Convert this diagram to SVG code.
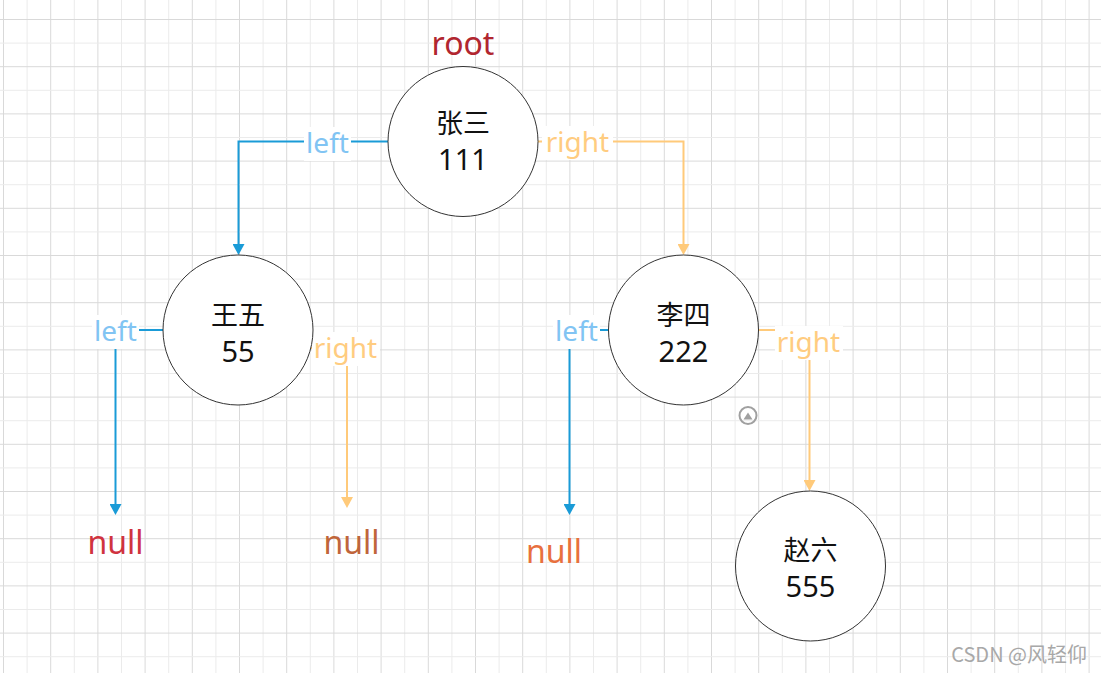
<svg xmlns="http://www.w3.org/2000/svg" width="1101" height="673" viewBox="0 0 1101 673">
<style>
.node circle{fill:#fff;stroke:#333;stroke-width:1}
.nt{font-family:"Noto Sans CJK SC","Noto Sans",sans-serif;fill:#111;text-anchor:middle}
.cn{font-size:27px}
.num{font-size:29px;font-family:"Noto Sans","Noto Sans CJK SC",sans-serif}
.lbl{font-family:"Noto Sans","Open Sans",sans-serif;font-size:28px;text-anchor:middle}
.lb{fill:#81c4f3}
.lr{fill:#ffcc80}
.big{font-family:"Noto Sans","Open Sans",sans-serif;font-size:32px;text-anchor:middle}
.bg{fill:#fff}
.eb{fill:none;stroke:#1a9bd7;stroke-width:2;marker-end:url(#ab)}
.eo{fill:none;stroke:#ffca7a;stroke-width:2;marker-end:url(#ao)}
</style>
<defs>
<pattern id="grid" x="3" y="19" width="47.2" height="47.2" patternUnits="userSpaceOnUse">
<rect x="0" y="0" width="1" height="47.2" fill="#d9d9d9"/>
<rect x="23.6" y="0" width="1" height="47.2" fill="#ebebeb"/>
<rect x="0" y="0" width="47.2" height="1" fill="#d9d9d9"/>
<rect x="0" y="23.6" width="47.2" height="1" fill="#ebebeb"/>
</pattern>
<marker id="ab" viewBox="0 0 11 12" refX="6" refY="6" markerWidth="11" markerHeight="12" markerUnits="userSpaceOnUse" orient="auto"><path d="M0,0 L11,6 L0,12 z" fill="#1a9bd7"/></marker>
<marker id="ao" viewBox="0 0 11 12" refX="6" refY="6" markerWidth="11" markerHeight="12" markerUnits="userSpaceOnUse" orient="auto"><path d="M0,0 L11,6 L0,12 z" fill="#ffca7a"/></marker>
</defs>
<rect width="1101" height="673" fill="#fff"/>
<rect width="1101" height="673" fill="url(#grid)"/>

<g id="connectors">
<path class="eb" d="M388,141.5 H238.5 V250"/>
<path class="eb" d="M163,330 H115.5 V510"/>
<path class="eb" d="M608,330 H569.5 V510"/>
<path class="eo" d="M538,141.5 H683.5 V250"/>
<path class="eo" d="M311,348 H347 V503"/>
<path class="eo" d="M759,330 H809.5 V486"/>
<rect class="bg" x="304" y="127" width="47" height="34"/>
<text class="lbl lb" x="327.5" y="153">left</text>
<rect class="bg" x="542" y="126" width="71" height="34"/>
<text class="lbl lr" x="577.5" y="152">right</text>
<rect class="bg" x="92" y="315" width="47" height="34"/>
<text class="lbl lb" x="115.5" y="341">left</text>
<rect class="bg" x="312" y="332" width="68" height="34"/>
<text class="lbl lr" x="345.5" y="358">right</text>
<rect class="bg" x="553" y="315" width="47" height="34"/>
<text class="lbl lb" x="576.5" y="341">left</text>
<rect class="bg" x="775" y="326" width="68" height="34"/>
<text class="lbl lr" x="808.5" y="352">right</text>
</g>

<text class="big" x="463" y="55" fill="#b1262f">root</text>

<g id="node-zhangsan" class="node">
<circle cx="463" cy="141.5" r="75"/>
<text class="nt"><tspan class="cn" x="463" y="133">张三</tspan><tspan class="num" x="463" y="170">111</tspan></text>
</g>
<g id="node-wangwu" class="node">
<circle cx="238" cy="330" r="75"/>
<text class="nt"><tspan class="cn" x="238" y="325">王五</tspan><tspan class="num" x="238" y="362">55</tspan></text>
</g>
<g id="node-lisi" class="node">
<circle cx="683.5" cy="330" r="75"/>
<text class="nt"><tspan class="cn" x="683.5" y="325">李四</tspan><tspan class="num" x="683.5" y="362">222</tspan></text>
</g>
<g id="node-zhaoliu" class="node">
<circle cx="810.5" cy="566" r="75"/>
<text class="nt"><tspan class="cn" x="810.5" y="560">赵六</tspan><tspan class="num" x="810.5" y="597">555</tspan></text>
</g>

<g id="null-1"><text class="big" x="115.5" y="554" fill="#d0333f">null</text></g>
<g id="null-2"><text class="big" x="351.5" y="554" fill="#c0653a">null</text></g>
<g id="null-3"><text class="big" x="554" y="563" fill="#e8703e">null</text></g>

<g id="icon">
<circle cx="748" cy="415.5" r="8.5" fill="none" stroke="#a0a0a0" stroke-width="2"/>
<polygon points="743.5,419.5 752.5,419.5 748,412.5" fill="#a0a0a0"/>
</g>

<text x="1087" y="662" font-family="Noto Sans CJK SC, Noto Sans, sans-serif" font-size="20" fill="#a8a8a8" text-anchor="end">CSDN @风轻仰</text>
</svg>
